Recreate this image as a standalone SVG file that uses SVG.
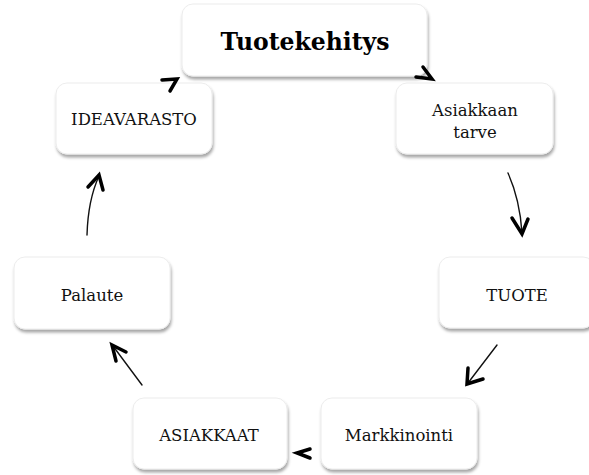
<svg xmlns="http://www.w3.org/2000/svg" width="589" height="475" viewBox="0 0 589 475">
<defs>
<filter id="sh" x="-10%" y="-10%" width="125%" height="135%">
<feDropShadow dx="1" dy="3" stdDeviation="1.8" flood-color="#000" flood-opacity="0.35"/>
</filter>
<style>
.box{fill:#fff;stroke:#ececec;stroke-width:1;filter:url(#sh)}
.t{font-family:"DejaVu Serif","Liberation Serif",serif;font-size:16.5px;fill:#111;text-anchor:middle}
.tb{font-family:"DejaVu Serif","Liberation Serif",serif;font-size:23.5px;font-weight:bold;fill:#000;text-anchor:middle}
.ln{fill:none;stroke:#111;stroke-width:1.4;stroke-linecap:round}
.hd{fill:none;stroke:#000;stroke-width:3.5;stroke-linecap:round;stroke-linejoin:miter}
</style>
</defs>
<rect width="589" height="475" fill="#fff"/>
<g id="n-tuotekehitys">
<rect class="box" x="182" y="4" width="245" height="72" rx="11"/>
<text class="tb" x="305" y="50">Tuotekehitys</text>
</g>
<g id="n-ideavarasto">
<rect class="box" x="56" y="83" width="156" height="71" rx="11"/>
<text class="t" x="134" y="125">IDEAVARASTO</text>
</g>
<g id="n-asiakkaan-tarve">
<rect class="box" x="396" y="83" width="157" height="71" rx="11"/>
<text class="t" x="475" y="116">Asiakkaan</text>
<text class="t" x="475" y="138">tarve</text>
</g>
<g id="n-tuote">
<rect class="box" x="439" y="257" width="155" height="71" rx="11"/>
<text class="t" x="517" y="301">TUOTE</text>
</g>
<g id="n-palaute">
<rect class="box" x="14" y="257" width="156" height="72" rx="11"/>
<text class="t" x="92" y="301">Palaute</text>
</g>
<g id="n-asiakkaat">
<rect class="box" x="133" y="398" width="154" height="71" rx="11"/>
<text class="t" x="209" y="441">ASIAKKAAT</text>
</g>
<g id="n-markkinointi">
<rect class="box" x="321" y="398" width="156" height="71" rx="11"/>
<text class="t" x="399" y="441">Markkinointi</text>
</g>
<g id="connectors">
<path class="hd" d="M423,67 L432,79 L416,77"/>
<path class="ln" d="M508,173 Q520,200 522,233"/>
<path class="hd" d="M512,218 L522,234 L528,219"/>
<path class="ln" d="M497,345 L468,383"/>
<path class="hd" d="M468,368 L467,384 L483,379"/>
<path class="hd" d="M310,449 L297,453 L310,458"/>
<path class="ln" d="M142,385 L113,346"/>
<path class="hd" d="M126,352 L112,345 L116,361"/>
<path class="ln" d="M87,235 Q88,200 99,176"/>
<path class="hd" d="M88,187 L99,175 L103,190"/>
<path class="hd" d="M162,80 L177,79 L170,91"/>
</g>
</svg>
